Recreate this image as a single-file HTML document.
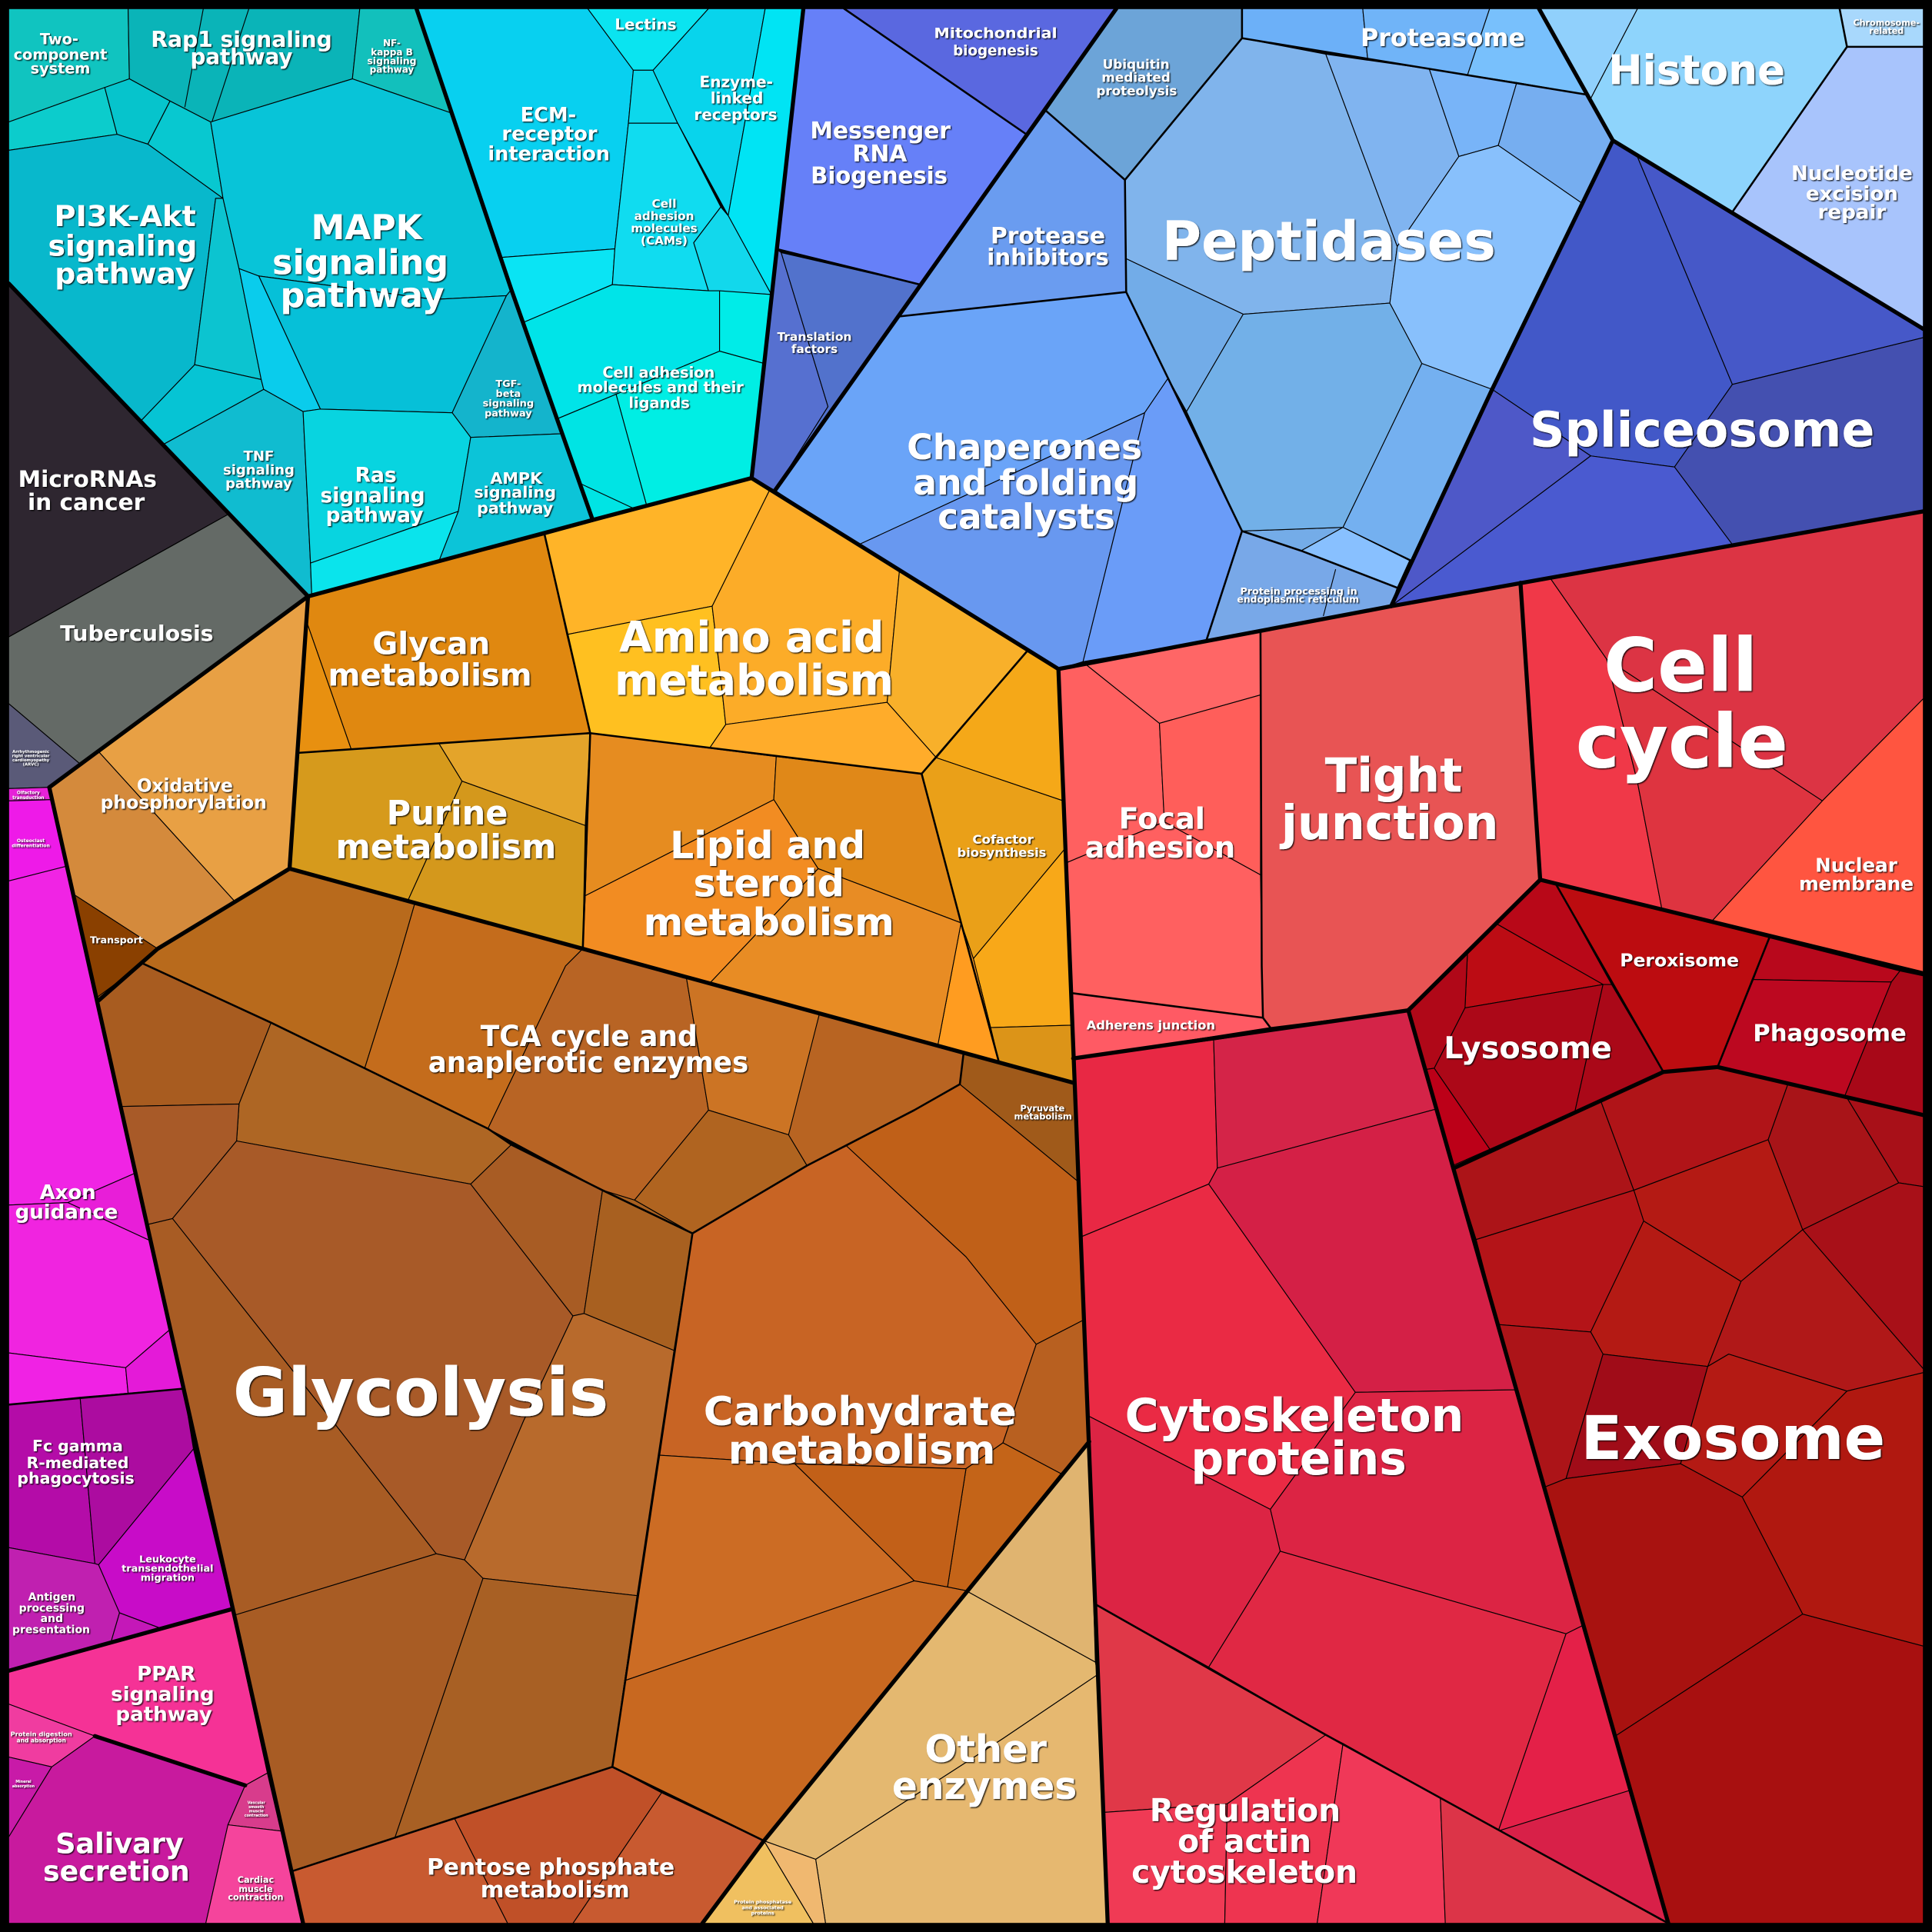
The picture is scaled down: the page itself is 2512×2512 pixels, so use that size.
<!DOCTYPE html>
<html><head><meta charset="utf-8"><style>
html,body{margin:0;padding:0;background:#000}
svg{display:block}
polygon{stroke:#000;stroke-width:.7;stroke-linejoin:round}
.t1{fill:none;stroke:#000;stroke-width:3.3;stroke-linejoin:round;stroke-linecap:round}
.t2{fill:none;stroke:#000;stroke-width:1.6;stroke-linejoin:round;stroke-linecap:round}
.t3{fill:none;stroke:#000;stroke-width:.7}
text{font-family:"DejaVu Sans","Liberation Sans",sans-serif;font-weight:bold;fill:#fff;text-anchor:middle}
</style></head><body>
<svg xmlns="http://www.w3.org/2000/svg" width="2512" height="2512" viewBox="0 0 1568 1568">
<defs><filter id="sh" x="-5%" y="-5%" width="110%" height="110%"><feDropShadow dx="0.8" dy="0.8" stdDeviation="0.5" flood-color="#000" flood-opacity="0.85"/></filter></defs>
<rect width="1568" height="1568" fill="#000"/>
<!-- CYAN -->
<polygon points="7,7 104,7 105,64 7,99" fill="#10c4c0"/>
<polygon points="104,7 292,7 286,64 171,99 138,82 105,64" fill="#0ab4b8"/>
<polygon points="292,7 338,7 367,92 286,64" fill="#12c0bc"/>
<polygon points="7,99 85,71 95,109 7,122" fill="#0ccccc"/>
<polygon points="85,71 105,64 138,82 120,117 95,109" fill="#06c4cc"/>
<polygon points="138,82 171,99 181,161 120,117" fill="#08c8d0"/>
<polygon points="7,122 95,109 120,117 181,161 175,161 158,296 114,342 7,230" fill="#08b8cc"/>
<polygon points="175,161 181,161 194,218 212,308 158,296" fill="#0cc4d0"/>
<polygon points="158,296 212,308 214,316 132,361 114,342" fill="#06c4d4"/>
<polygon points="171,99 286,64 367,92 415,235 411,240 352,243 210,224 194,218 181,161" fill="#08c4d8"/>
<polygon points="210,224 352,243 411,240 367,335 260,332" fill="#06c0d8"/>
<polygon points="194,218 210,224 260,332 246,334 214,316 212,308" fill="#0accec"/>
<polygon points="411,240 415,235 456,352 382,355 367,335" fill="#14b4cc"/>
<polygon points="132,361 214,316 246,334 252,457 253,483 250,484" fill="#10bcd0"/>
<polygon points="246,334 260,332 367,335 382,355 372,415 252,457" fill="#08d4e0"/>
<polygon points="252,457 372,415 356,456 253,483" fill="#0ae4ec"/>
<polygon points="382,355 456,352 481,422 356,456 372,415" fill="#0cc4d8"/>
<polygon points="338,7 477,7 514,57 510,100 499,202 406,209" fill="#08d0f0"/>
<polygon points="406,209 499,202 497,231 424,262 415,235" fill="#0ae4f4"/>
<polygon points="477,7 575,7 530,57 514,57" fill="#0ae4f0"/>
<polygon points="514,57 530,57 550,100 510,100" fill="#0cd8ec"/>
<polygon points="575,7 621,7 591,175 550,100 530,57" fill="#08d4ec"/>
<polygon points="621,7 652,7 626,239 591,175" fill="#00e4f4"/>
<polygon points="510,100 550,100 585,168 563,197 575,236 497,231 499,202" fill="#10dcf0"/>
<polygon points="585,168 591,175 626,239 575,236 563,197" fill="#12d8ec"/>
<polygon points="424,262 497,231 575,236 584,236 584,285 500,320 452,340" fill="#00e4e8"/>
<polygon points="584,236 626,239 620,295 584,285" fill="#00ece8"/>
<polygon points="500,320 584,285 620,295 610,388 525,411" fill="#00eee4"/>
<polygon points="452,340 500,320 525,411 481,422" fill="#00e4e4"/>
<!-- DARK -->
<polygon points="7,230 186,417 7,517" fill="#2e2630"/>
<polygon points="7,517 186,417 250,484 65,620 7,571" fill="#646a66"/>
<polygon points="7,571 65,620 40,639 7,640" fill="#5a5a78"/>
<!-- MAGENTA -->
<polygon points="7,640 40,639 42,649 7,650" fill="#e622d8"/>
<polygon points="7,650 42,649 54,703 7,715" fill="#ee1ae8"/>
<polygon points="7,715 54,703 110,952 55,976 7,978" fill="#f024e4"/>
<polygon points="55,976 110,952 122,1007" fill="#e81ed8"/>
<polygon points="7,978 55,976 122,1007 138,1079 102,1110 7,1098" fill="#f024e0"/>
<polygon points="7,1098 102,1110 104,1131 7,1140" fill="#f022e4"/>
<polygon points="102,1110 138,1079 149,1127 104,1131" fill="#e41ad8"/>
<polygon points="7,1140 65,1134 77,1269 7,1256" fill="#b40ca8"/>
<polygon points="65,1134 149,1127 157,1176 80,1270 77,1269" fill="#ac0ca0"/>
<polygon points="157,1176 188,1306 129,1321 97,1309 80,1270" fill="#c80cc8"/>
<polygon points="7,1256 77,1269 80,1270 97,1309 90,1333 7,1356" fill="#c020b0"/>
<polygon points="97,1309 129,1321 90,1333" fill="#c418b8"/>
<polygon points="7,1356 188,1306 217,1439 199,1449 77,1409 7,1383" fill="#f53296"/>
<polygon points="7,1383 77,1409 42,1434 7,1426" fill="#f03ca0"/>
<polygon points="7,1426 42,1434 7,1491" fill="#c81aa8"/>
<polygon points="42,1434 77,1409 199,1449 185,1481 167,1561 7,1561 7,1491" fill="#c81a9e"/>
<polygon points="199,1449 217,1439 228,1486 185,1481" fill="#d83c8c"/>
<polygon points="185,1481 228,1486 246,1561 167,1561" fill="#f5449c"/>
<!-- ORANGE UPPER -->
<polygon points="80,610 250,484 235,705 190,731" fill="#e8a044"/>
<polygon points="40,639 80,610 190,731 128,770 60,726" fill="#d48a3c"/>
<polygon points="60,726 128,770 80,812" fill="#8a4000"/>
<polygon points="250,484 442,434 479,595 285,608 249,505" fill="#e08810"/>
<polygon points="249,505 285,608 242,611" fill="#e89010"/>
<polygon points="242,611 356,603 375,634 331,731 235,705" fill="#d69a1c"/>
<polygon points="356,603 479,595 475,670 375,634" fill="#e4a42a"/>
<polygon points="375,634 475,670 473,770 331,731" fill="#d4981c"/>
<polygon points="442,434 610,388 625,397 578,492 460,515" fill="#ffb428"/>
<polygon points="460,515 578,492 586,560 589,588 576,607 479,595" fill="#ffc020"/>
<polygon points="625,397 730,463 720,570 589,588 586,560 578,492" fill="#fcac28"/>
<polygon points="589,588 720,570 760,615 748,628 576,607" fill="#ffac2a"/>
<polygon points="730,463 834,528 760,615 720,570" fill="#f8b02a"/>
<polygon points="834,528 859,543 863,650 760,615" fill="#f5a818"/>
<polygon points="760,615 863,650 865,688 790,778 780,749 748,628" fill="#eaa018"/>
<polygon points="865,688 870,832 804,834 790,778" fill="#f8a818"/>
<polygon points="804,834 870,832 872,879 811,863" fill="#dc9418"/>
<polygon points="780,749 790,778 804,834 811,863 761,849" fill="#ff9c20"/>
<polygon points="479,595 630,614 628,649 475,727" fill="#e68c20"/>
<polygon points="630,614 748,628 780,749 664,705 628,649" fill="#e08818"/>
<polygon points="475,727 628,649 664,705 576,798 473,770" fill="#f28c22"/>
<polygon points="664,705 780,749 761,849 576,798" fill="#e88c24"/>
<!-- BROWN -->
<polygon points="128,770 235,705 337,732 322,784 296,867 220,830 116,782" fill="#b86a1c"/>
<polygon points="337,732 473,770 459,784 396,916 296,867 322,784" fill="#c46c1c"/>
<polygon points="473,770 557,793 575,901 515,974 489,966 396,916 459,784" fill="#b86424"/>
<polygon points="557,793 665,823 646,901 640,921 575,901" fill="#cc7424"/>
<polygon points="575,901 640,921 655,946 562,1001 515,974" fill="#b06420"/>
<polygon points="665,823 782,855 779,880 742,901 655,946 640,921" fill="#b86422"/>
<polygon points="782,855 872,879 875,959 779,880" fill="#a05a1a"/>
<polygon points="78,810 116,782 220,830 194,896 98,898" fill="#a85c20"/>
<polygon points="220,830 296,867 396,916 415,929 382,961 192,926 194,896" fill="#ae6624"/>
<polygon points="98,898 194,896 192,926 140,989 119,994" fill="#a85a28"/>
<polygon points="192,926 382,961 465,1068 425,1153 377,1266 354,1261 272,1156 140,989" fill="#a85a28"/>
<polygon points="382,961 415,929 489,966 474,1066 465,1068" fill="#a85c24"/>
<polygon points="489,966 515,974 562,1001 547,1096 474,1066" fill="#a86020"/>
<polygon points="474,1066 547,1096 517,1295 392,1281 377,1266 425,1153 465,1068" fill="#b86a2c"/>
<polygon points="119,994 140,989 272,1156 354,1261 190,1311" fill="#a85c24"/>
<polygon points="190,1311 354,1261 377,1266 392,1281 320,1493 236,1519" fill="#a85c24"/>
<polygon points="392,1281 517,1295 497,1434 320,1493" fill="#a86024"/>
<polygon points="236,1519 369,1476 412,1561 246,1561" fill="#c85a30"/>
<polygon points="369,1476 497,1434 537,1455 465,1561 412,1561" fill="#c05028"/>
<polygon points="537,1455 620,1494 570,1561 465,1561" fill="#c85a30"/>
<polygon points="562,1001 655,946 687,930 784,1020 841,1091 814,1171 784,1192 645,1188 535,1181" fill="#c86424"/>
<polygon points="687,930 742,901 779,880 875,959 880,1071 841,1091 784,1020" fill="#c06018"/>
<polygon points="841,1091 880,1071 884,1170 861,1196 814,1171" fill="#b86020"/>
<polygon points="784,1192 814,1171 861,1196 784,1291 769,1288" fill="#c46418"/>
<polygon points="645,1188 784,1192 769,1288 742,1283" fill="#c26018"/>
<polygon points="535,1181 645,1188 742,1283 507,1364" fill="#cc6c24"/>
<polygon points="742,1283 769,1288 784,1291 620,1494 497,1434 507,1364" fill="#c86820"/>
<polygon points="884,1170 889,1349 784,1291" fill="#e0b470"/>
<polygon points="620,1494 784,1291 889,1349 891,1359 814,1411 662,1509" fill="#e4b870"/>
<polygon points="662,1509 814,1411 891,1359 899,1561 670,1561" fill="#e6b870"/>
<polygon points="620,1494 662,1509 670,1561 660,1561" fill="#f0b870"/>
<polygon points="620,1494 660,1561 570,1561" fill="#f0c060"/>
<!-- BLUE -->
<polygon points="652,7 685,7 833,109 747,231 630,202" fill="#6680f8"/>
<polygon points="685,7 906,7 833,109" fill="#5a68e0"/>
<polygon points="630,202 634,205 672,330 629,398 610,388" fill="#5670d0"/>
<polygon points="634,205 747,231 629,398 672,330" fill="#5272cc"/>
<polygon points="906,7 1008,7 1008,31 913,146 849,90" fill="#6ca4d8"/>
<polygon points="1008,7 1106,7 1110,48 1008,31" fill="#6cb0f8"/>
<polygon points="1106,7 1209,7 1191,61 1110,48" fill="#70b4f8"/>
<polygon points="1209,7 1249,7 1289,77 1191,61" fill="#78c0fc"/>
<polygon points="849,90 913,146 914,237 728,257" fill="#6a9cf0"/>
<polygon points="629,398 728,257 914,237 948,307 929,335 697,442" fill="#6aa4f8"/>
<polygon points="697,442 929,335 879,537 859,543" fill="#6898f0"/>
<polygon points="929,335 948,307 1008,431 979,520 879,537" fill="#6a9cf8"/>
<polygon points="1008,431 1090,428 1056,447" fill="#74ace8"/>
<polygon points="1008,431 1056,447 1134,477 1129,492 979,520" fill="#78a8e8"/>
<polygon points="1056,447 1090,428 1144,455 1134,477" fill="#88c0ff"/>
<polygon points="913,146 1008,31 1076,44 1134,200 1128,246 1009,255 914,210" fill="#80b4ec"/>
<polygon points="914,210 1009,255 963,334 948,307 914,237" fill="#72ace8"/>
<polygon points="1009,255 1128,246 1154,295 1090,428 1008,431 963,334" fill="#72b0e8"/>
<polygon points="1076,44 1160,56 1184,127 1134,200" fill="#80b4f0"/>
<polygon points="1160,56 1231,67 1216,118 1184,127" fill="#78b4f8"/>
<polygon points="1231,67 1289,77 1309,114 1284,165 1216,118" fill="#76aef0"/>
<polygon points="1184,127 1216,118 1284,165 1211,316 1154,295 1128,246 1134,200" fill="#88c0fc"/>
<polygon points="1154,295 1211,316 1146,455 1090,428" fill="#74b0f0"/>
<polygon points="1249,7 1329,7 1291,80" fill="#90d0fc"/>
<polygon points="1329,7 1493,7 1499,38 1406,172 1309,114 1291,80" fill="#8ed4fc"/>
<polygon points="1493,7 1561,7 1561,38 1499,38" fill="#a8d8fc"/>
<polygon points="1499,38 1561,38 1561,267 1406,172" fill="#a8c4fc"/>
<polygon points="1309,114 1328,125 1406,312 1359,379 1291,370 1211,316" fill="#4258c8"/>
<polygon points="1328,125 1561,267 1561,274 1406,312" fill="#4658c8"/>
<polygon points="1406,312 1561,274 1561,415 1406,442 1359,379" fill="#4450b0"/>
<polygon points="1211,316 1291,370 1129,492" fill="#4e58c8"/>
<polygon points="1291,370 1359,379 1406,442 1129,492" fill="#4a5ad0"/>
<!-- RED -->
<polygon points="859,543 881,539 941,587 945,667 866,700" fill="#ff6060"/>
<polygon points="881,539 1023,512 1023,564 941,587" fill="#ff6666"/>
<polygon points="941,587 1023,564 1023,710 945,667" fill="#ff5e5a"/>
<polygon points="866,700 945,667 1023,710 1025,826 870,806" fill="#ff6060"/>
<polygon points="870,806 1025,826 1031,834 871,859" fill="#ff5a64"/>
<polygon points="1023,512 1234,473 1250,714 1143,820 1031,834 1025,826 1024,784" fill="#e85454"/>
<polygon points="1234,473 1258,469 1304,535 1329,635 1349,739 1250,714" fill="#f03848"/>
<polygon points="1258,469 1561,415 1561,567 1479,650 1304,535" fill="#dc3444"/>
<polygon points="1304,535 1479,650 1389,748 1349,739 1329,635" fill="#de3440"/>
<polygon points="1561,567 1561,790 1389,748 1479,650" fill="#ff5540"/>
<polygon points="1250,714 1263,718 1308,799 1301,799 1215,750" fill="#b80818"/>
<polygon points="1191,773 1215,750 1301,799 1189,818" fill="#bc0c14"/>
<polygon points="1142,819 1191,773 1189,818 1164,867 1157,868" fill="#b00818"/>
<polygon points="1189,818 1301,799 1278,903 1210,934 1164,867" fill="#ac0818"/>
<polygon points="1301,799 1308,799 1350,870 1278,903" fill="#aa0818"/>
<polygon points="1157,868 1164,867 1210,934 1180,948" fill="#bc0018"/>
<polygon points="1263,718 1436,761 1394,866 1350,870" fill="#bc0c10"/>
<polygon points="1436,761 1542,788 1535,797 1423,795" fill="#b8081c"/>
<polygon points="1423,795 1535,797 1497,890 1394,866" fill="#bc0820"/>
<polygon points="1542,788 1561,792 1561,905 1497,890 1535,797" fill="#a80818"/>
<polygon points="1179,946 1299,893 1326,966 1198,1006" fill="#ac1418"/>
<polygon points="1299,893 1350,870 1394,866 1451,880 1435,925 1326,966" fill="#b01418"/>
<polygon points="1451,880 1499,891 1541,960 1463,998 1435,925" fill="#a81418"/>
<polygon points="1499,891 1561,905 1561,963 1541,960" fill="#a81018"/>
<polygon points="1326,966 1435,925 1463,998 1413,1040 1334,991" fill="#b41a14"/>
<polygon points="1198,1006 1326,966 1334,991 1291,1081 1216,1075" fill="#b41418"/>
<polygon points="1334,991 1413,1040 1386,1109 1301,1099 1291,1081" fill="#b41a14"/>
<polygon points="1463,998 1541,960 1561,963 1561,1111" fill="#a81018"/>
<polygon points="1413,1040 1463,998 1561,1111 1561,1114 1499,1129 1403,1099 1386,1109" fill="#b01818"/>
<polygon points="1216,1075 1291,1081 1301,1099 1271,1200 1251,1208" fill="#ac1418"/>
<polygon points="1301,1099 1386,1109 1364,1188 1271,1200" fill="#a00c18"/>
<polygon points="1386,1109 1403,1099 1499,1129 1414,1215 1364,1188" fill="#b41a14"/>
<polygon points="1499,1129 1561,1114 1561,1336 1463,1310 1414,1215" fill="#b01810"/>
<polygon points="1251,1208 1271,1200 1364,1188 1414,1215 1463,1310 1311,1409" fill="#a81210"/>
<polygon points="1311,1409 1463,1310 1561,1336 1561,1561 1354,1561" fill="#a81010"/>
<polygon points="871,859 985,844 988,948 981,961 877,1004" fill="#e82844"/>
<polygon points="985,844 1143,820 1166,900 988,948" fill="#d42448"/>
<polygon points="877,1004 981,961 1100,1130 1031,1225 883,1149" fill="#ea2a44"/>
<polygon points="988,948 1166,900 1230,1128 1100,1130 981,961" fill="#d42046"/>
<polygon points="1100,1130 1230,1128 1285,1319 1271,1326 1039,1259 1031,1225" fill="#dc2444"/>
<polygon points="883,1149 1031,1225 1039,1259 981,1353 889,1302" fill="#dc2444"/>
<polygon points="981,1353 1039,1259 1271,1326 1216,1486 1076,1408" fill="#e02844"/>
<polygon points="1271,1326 1285,1319 1323,1453 1216,1486" fill="#e42048"/>
<polygon points="1216,1486 1323,1453 1354,1561" fill="#d82048"/>
<polygon points="889,1302 1076,1408 996,1464 895,1471" fill="#e03848"/>
<polygon points="895,1471 996,1464 994,1561 899,1561" fill="#f03a55"/>
<polygon points="996,1464 1076,1408 1090,1415 1069,1561 994,1561" fill="#ee3450"/>
<polygon points="1090,1415 1169,1459 1173,1561 1069,1561" fill="#f03858"/>
<polygon points="1169,1459 1354,1561 1173,1561" fill="#dc3448"/>
<!-- thin extra lines -->
<polyline class="t3" points="150,87 165,7"/>
<polyline class="t3" points="172,99 202,7"/>
<polyline class="t3" points="470,392 515,413"/>
<polyline class="t3" points="1084,462 1074,500"/>
<!-- medium lines -->
<polyline class="t2" points="7,1140 149,1127"/>
<polyline class="t2" points="242,611 479,595 748,628"/>
<polyline class="t2" points="442,434 479,595 473,770"/>
<polyline class="t2" points="834,528 748,628 780,749 811,863"/>
<polyline class="t2" points="116,782 220,830 296,867 396,916 415,929 489,966 562,1001 497,1434 236,1519"/>
<polyline class="t2" points="497,1434 620,1494"/>
<polyline class="t2" points="562,1001 655,946 742,901 779,880 782,855"/>
<polyline class="t2" points="1008,7 1008,31 1289,77"/>
<polyline class="t2" points="1008,31 913,146 849,90"/>
<polyline class="t2" points="913,146 914,237 728,257"/>
<polyline class="t2" points="914,237 948,307 1008,431 979,520"/>
<polyline class="t2" points="1008,431 1056,447 1134,477"/>
<polyline class="t2" points="1406,172 1499,38 1561,38"/>
<polyline class="t2" points="1493,7 1499,38"/>
<polyline class="t2" points="685,7 833,109"/>
<polyline class="t2" points="630,202 747,231"/>
<polyline class="t2" points="1023,512 1024,784 1025,826 1031,834"/>
<polyline class="t2" points="870,806 1025,826"/>
<polyline class="t2" points="1263,718 1350,870"/>
<polyline class="t2" points="1436,761 1394,866"/>
<polyline class="t2" points="889,1302 1076,1408 1354,1561"/>
<!-- thick lines -->
<polyline class="t1" points="7,230 250,484 481,422 610,388 652,7"/>
<polyline class="t1" points="338,7 415,235 481,422"/>
<polyline class="t1" points="250,484 40,639"/>
<polyline class="t1" points="40,639 246,1561"/>
<polyline class="t1" points="250,484 235,705 128,770 80,812"/>
<polyline class="t1" points="235,705 872,879"/>
<polyline class="t1" points="610,388 859,543 899,1561"/>
<polyline class="t1" points="859,543 1129,492 1561,415"/>
<polyline class="t1" points="906,7 629,398"/>
<polyline class="t1" points="1249,7 1309,114 1211,316 1129,492"/>
<polyline class="t1" points="1309,114 1561,267"/>
<polyline class="t1" points="1234,473 1250,714 1561,790"/>
<polyline class="t1" points="1250,714 1143,820 871,859"/>
<polyline class="t1" points="1143,820 1354,1561"/>
<polyline class="t1" points="1180,948 1350,870 1394,866 1561,905"/>
<polyline class="t1" points="884,1170 620,1494 570,1561"/>
<polyline class="t1" points="7,1356 188,1306"/>
<polyline class="t1" points="77,1409 199,1449"/>
<rect x="3.5" y="3.5" width="1561" height="1561" fill="none" stroke="#000" stroke-width="7.5"/>
<!-- LABELS -->
<g filter="url(#sh)">
<text x="48" y="36" font-size="12">Two-</text>
<text x="49" y="48.5" font-size="12" textLength="76" lengthAdjust="spacingAndGlyphs">component</text>
<text x="49" y="59.5" font-size="12">system</text>
<text x="196" y="38" font-size="17.5" textLength="147" lengthAdjust="spacingAndGlyphs">Rap1 signaling</text>
<text x="196" y="52" font-size="17.5" textLength="83" lengthAdjust="spacingAndGlyphs">pathway</text>
<text x="318" y="37.5" font-size="7.5">NF-</text>
<text x="318" y="45" font-size="7.5">kappa B</text>
<text x="318" y="52" font-size="7.5" textLength="40" lengthAdjust="spacingAndGlyphs">signaling</text>
<text x="318" y="59" font-size="7.5">pathway</text>
<text x="101.5" y="183.5" font-size="23.5" textLength="115" lengthAdjust="spacingAndGlyphs">PI3K-Akt</text>
<text x="99.5" y="207.5" font-size="23.5" textLength="121" lengthAdjust="spacingAndGlyphs">signaling</text>
<text x="101" y="230" font-size="23.5" textLength="113" lengthAdjust="spacingAndGlyphs">pathway</text>
<text x="297.5" y="194" font-size="27.7" textLength="90" lengthAdjust="spacingAndGlyphs">MAPK</text>
<text x="292.5" y="222.5" font-size="27.7" textLength="143" lengthAdjust="spacingAndGlyphs">signaling</text>
<text x="294" y="249" font-size="27.7" textLength="133" lengthAdjust="spacingAndGlyphs">pathway</text>
<text x="445" y="98.5" font-size="16">ECM-</text>
<text x="446" y="114" font-size="16" textLength="77.5" lengthAdjust="spacingAndGlyphs">receptor</text>
<text x="445.5" y="130" font-size="16" textLength="99" lengthAdjust="spacingAndGlyphs">interaction</text>
<text x="524" y="24" font-size="12.4" textLength="50" lengthAdjust="spacingAndGlyphs">Lectins</text>
<text x="597.5" y="71" font-size="12.5">Enzyme-</text>
<text x="598" y="84" font-size="12.5">linked</text>
<text x="597" y="97.5" font-size="12.5" textLength="67.5" lengthAdjust="spacingAndGlyphs">receptors</text>
<text x="539" y="168.5" font-size="9.5">Cell</text>
<text x="539" y="178.5" font-size="9.5">adhesion</text>
<text x="539" y="188.5" font-size="9.5" textLength="54" lengthAdjust="spacingAndGlyphs">molecules</text>
<text x="539" y="198.5" font-size="9.5">(CAMs)</text>
<text x="534.5" y="306.5" font-size="12.1" textLength="91" lengthAdjust="spacingAndGlyphs">Cell adhesion</text>
<text x="536" y="318.5" font-size="12.1" textLength="135" lengthAdjust="spacingAndGlyphs">molecules and their</text>
<text x="535" y="331" font-size="12.1">ligands</text>
<text x="412.5" y="314" font-size="8">TGF-</text>
<text x="412.5" y="322" font-size="8">beta</text>
<text x="412.5" y="330" font-size="8" textLength="41.5" lengthAdjust="spacingAndGlyphs">signaling</text>
<text x="412.5" y="338" font-size="8">pathway</text>
<text x="210" y="374" font-size="11.3">TNF</text>
<text x="210" y="385" font-size="11.3" textLength="58" lengthAdjust="spacingAndGlyphs">signaling</text>
<text x="210" y="396" font-size="11.3">pathway</text>
<text x="305" y="391" font-size="16.5">Ras</text>
<text x="302.5" y="407.5" font-size="16.5" textLength="85" lengthAdjust="spacingAndGlyphs">signaling</text>
<text x="304" y="423.5" font-size="16.5">pathway</text>
<text x="419" y="392.5" font-size="12.9">AMPK</text>
<text x="418" y="404" font-size="12.9" textLength="66.5" lengthAdjust="spacingAndGlyphs">signaling</text>
<text x="418" y="416.5" font-size="12.9">pathway</text>
<text x="71" y="395" font-size="18.5" textLength="112.5" lengthAdjust="spacingAndGlyphs">MicroRNAs</text>
<text x="70" y="414" font-size="18.5" textLength="95" lengthAdjust="spacingAndGlyphs">in cancer</text>
<text x="111" y="520" font-size="17.4" textLength="124.5" lengthAdjust="spacingAndGlyphs">Tuberculosis</text>
<text x="25" y="611" font-size="3.3">Arrhythmogenic</text>
<text x="25" y="614.5" font-size="3.3">right ventricular</text>
<text x="25" y="618" font-size="3.3">cardiomyopathy</text>
<text x="25" y="621.5" font-size="3.3">(ARVC)</text>
<text x="23" y="644.5" font-size="3.6">Olfactory</text>
<text x="23" y="648.5" font-size="3.6">transduction</text>
<text x="25" y="683.5" font-size="3.8">Osteoclast</text>
<text x="25" y="687.5" font-size="3.8">differentiation</text>
<text x="150" y="642.5" font-size="14.7" textLength="78" lengthAdjust="spacingAndGlyphs">Oxidative</text>
<text x="149" y="656.5" font-size="14.7" textLength="135" lengthAdjust="spacingAndGlyphs">phosphorylation</text>
<text x="94.5" y="765.5" font-size="8" textLength="43" lengthAdjust="spacingAndGlyphs">Transport</text>
<text x="350" y="531" font-size="25" textLength="95.5" lengthAdjust="spacingAndGlyphs">Glycan</text>
<text x="349" y="556.5" font-size="25" textLength="165.5" lengthAdjust="spacingAndGlyphs">metabolism</text>
<text x="610" y="529" font-size="34.3" textLength="215" lengthAdjust="spacingAndGlyphs">Amino acid</text>
<text x="612" y="564" font-size="34.3" textLength="226.5" lengthAdjust="spacingAndGlyphs">metabolism</text>
<text x="363" y="669" font-size="27.1" textLength="98.5" lengthAdjust="spacingAndGlyphs">Purine</text>
<text x="362" y="696.5" font-size="27.1" textLength="179" lengthAdjust="spacingAndGlyphs">metabolism</text>
<text x="623" y="696.5" font-size="30.8" textLength="158.5" lengthAdjust="spacingAndGlyphs">Lipid and</text>
<text x="624" y="727.5" font-size="30.8" textLength="122.5" lengthAdjust="spacingAndGlyphs">steroid</text>
<text x="624" y="759" font-size="30.8" textLength="203.5" lengthAdjust="spacingAndGlyphs">metabolism</text>
<text x="814" y="684.6" font-size="10.2" textLength="49.6" lengthAdjust="spacingAndGlyphs">Cofactor</text>
<text x="813" y="695.3" font-size="10.2" textLength="72.3" lengthAdjust="spacingAndGlyphs">biosynthesis</text>
<text x="478" y="849" font-size="23.3" textLength="176" lengthAdjust="spacingAndGlyphs">TCA cycle and</text>
<text x="477.5" y="870" font-size="23.3" textLength="260" lengthAdjust="spacingAndGlyphs">anaplerotic enzymes</text>
<text x="846" y="902" font-size="7.1">Pyruvate</text>
<text x="846.5" y="908.5" font-size="7.1" textLength="47" lengthAdjust="spacingAndGlyphs">metabolism</text>
<text x="341.5" y="1149" font-size="54.2" textLength="305" lengthAdjust="spacingAndGlyphs">Glycolysis</text>
<text x="698" y="1156.5" font-size="32.5" textLength="254" lengthAdjust="spacingAndGlyphs">Carbohydrate</text>
<text x="699.5" y="1188" font-size="32.5" textLength="217" lengthAdjust="spacingAndGlyphs">metabolism</text>
<text x="447" y="1521.5" font-size="18.3" textLength="201" lengthAdjust="spacingAndGlyphs">Pentose phosphate</text>
<text x="450.5" y="1540" font-size="18.3" textLength="121" lengthAdjust="spacingAndGlyphs">metabolism</text>
<text x="800" y="1430" font-size="30.4" textLength="99" lengthAdjust="spacingAndGlyphs">Other</text>
<text x="799" y="1460" font-size="30.4" textLength="150" lengthAdjust="spacingAndGlyphs">enzymes</text>
<text x="619" y="1545" font-size="4">Protein phosphatase</text>
<text x="619" y="1549.5" font-size="4">and associated</text>
<text x="619" y="1554" font-size="4">proteins</text>
<text x="714.5" y="112.5" font-size="18.6" textLength="114" lengthAdjust="spacingAndGlyphs">Messenger</text>
<text x="714" y="131" font-size="18.6">RNA</text>
<text x="713.5" y="149" font-size="18.6" textLength="111" lengthAdjust="spacingAndGlyphs">Biogenesis</text>
<text x="808" y="31" font-size="11.4" textLength="100" lengthAdjust="spacingAndGlyphs">Mitochondrial</text>
<text x="808" y="45" font-size="11.4">biogenesis</text>
<text x="661" y="276.5" font-size="9.5" textLength="60.5" lengthAdjust="spacingAndGlyphs">Translation</text>
<text x="661" y="286.5" font-size="9.5">factors</text>
<text x="922" y="56" font-size="10.5">Ubiquitin</text>
<text x="922" y="66.5" font-size="10.5">mediated</text>
<text x="922.5" y="77.5" font-size="10.5" textLength="65.5" lengthAdjust="spacingAndGlyphs">proteolysis</text>
<text x="1171" y="37.5" font-size="19.8" textLength="133.5" lengthAdjust="spacingAndGlyphs">Proteasome</text>
<text x="850.5" y="197.5" font-size="18.3" textLength="93" lengthAdjust="spacingAndGlyphs">Protease</text>
<text x="850.5" y="215" font-size="18.3" textLength="99" lengthAdjust="spacingAndGlyphs">inhibitors</text>
<text x="1078.5" y="211" font-size="43.7" textLength="271" lengthAdjust="spacingAndGlyphs">Peptidases</text>
<text x="831.5" y="372.5" font-size="28.6" textLength="191" lengthAdjust="spacingAndGlyphs">Chaperones</text>
<text x="832.5" y="401.5" font-size="28.6" textLength="183" lengthAdjust="spacingAndGlyphs">and folding</text>
<text x="833" y="429" font-size="28.6" textLength="144" lengthAdjust="spacingAndGlyphs">catalysts</text>
<text x="1054" y="482.5" font-size="7.5" textLength="95" lengthAdjust="spacingAndGlyphs">Protein processing in</text>
<text x="1053.5" y="489" font-size="7.5" textLength="99" lengthAdjust="spacingAndGlyphs">endoplasmic reticulum</text>
<text x="1377" y="68.5" font-size="33.1" textLength="143.5" lengthAdjust="spacingAndGlyphs">Histone</text>
<text x="1531" y="21" font-size="6.9" textLength="54" lengthAdjust="spacingAndGlyphs">Chromosome-</text>
<text x="1531" y="27.5" font-size="6.9">related</text>
<text x="1503" y="146" font-size="16.3" textLength="98.5" lengthAdjust="spacingAndGlyphs">Nucleotide</text>
<text x="1503" y="162.5" font-size="16.3">excision</text>
<text x="1503" y="177.5" font-size="16.3">repair</text>
<text x="1381.5" y="362.5" font-size="39.5" textLength="280" lengthAdjust="spacingAndGlyphs">Spliceosome</text>
<text x="1364" y="561" font-size="60" textLength="125" lengthAdjust="spacingAndGlyphs">Cell</text>
<text x="1365" y="622.5" font-size="60" textLength="172.5" lengthAdjust="spacingAndGlyphs">cycle</text>
<text x="1131" y="642.5" font-size="38.5" textLength="111.5" lengthAdjust="spacingAndGlyphs">Tight</text>
<text x="1128" y="681" font-size="38.5" textLength="176.5" lengthAdjust="spacingAndGlyphs">junction</text>
<text x="943" y="672.5" font-size="23.8" textLength="70" lengthAdjust="spacingAndGlyphs">Focal</text>
<text x="941.5" y="696" font-size="23.8" textLength="122" lengthAdjust="spacingAndGlyphs">adhesion</text>
<text x="1506.5" y="707.5" font-size="15.4">Nuclear</text>
<text x="1506.5" y="722.5" font-size="15.4" textLength="93" lengthAdjust="spacingAndGlyphs">membrane</text>
<text x="934" y="835.5" font-size="10" textLength="104.5" lengthAdjust="spacingAndGlyphs">Adherens junction</text>
<text x="1363" y="784.4" font-size="14.6" textLength="96.5" lengthAdjust="spacingAndGlyphs">Peroxisome</text>
<text x="1240" y="859" font-size="24.5" textLength="136.5" lengthAdjust="spacingAndGlyphs">Lysosome</text>
<text x="1485" y="845" font-size="19.1" textLength="124.5" lengthAdjust="spacingAndGlyphs">Phagosome</text>
<text x="1406.5" y="1184" font-size="49" textLength="247" lengthAdjust="spacingAndGlyphs">Exosome</text>
<text x="1050.5" y="1161.5" font-size="37.2" textLength="275" lengthAdjust="spacingAndGlyphs">Cytoskeleton</text>
<text x="1054" y="1196.5" font-size="37.2" textLength="175" lengthAdjust="spacingAndGlyphs">proteins</text>
<text x="1010.5" y="1478" font-size="25.4" textLength="155" lengthAdjust="spacingAndGlyphs">Regulation</text>
<text x="1010" y="1503" font-size="25.4">of actin</text>
<text x="1010" y="1528" font-size="25.4" textLength="183.5" lengthAdjust="spacingAndGlyphs">cytoskeleton</text>
<text x="55" y="973" font-size="16.2">Axon</text>
<text x="54" y="989" font-size="16.2" textLength="83.5" lengthAdjust="spacingAndGlyphs">guidance</text>
<text x="63" y="1178" font-size="12.75">Fc gamma</text>
<text x="63" y="1191.5" font-size="12.75">R-mediated</text>
<text x="61.5" y="1204" font-size="12.75" textLength="95" lengthAdjust="spacingAndGlyphs">phagocytosis</text>
<text x="136" y="1268" font-size="8">Leukocyte</text>
<text x="136" y="1275.5" font-size="8" textLength="74.5" lengthAdjust="spacingAndGlyphs">transendothelial</text>
<text x="136" y="1283" font-size="8">migration</text>
<text x="42" y="1299" font-size="8.7">Antigen</text>
<text x="42" y="1308" font-size="8.7">processing</text>
<text x="42" y="1316.5" font-size="8.7">and</text>
<text x="41.5" y="1325.5" font-size="8.7" textLength="63" lengthAdjust="spacingAndGlyphs">presentation</text>
<text x="135" y="1364" font-size="16.3">PPAR</text>
<text x="132" y="1380.5" font-size="16.3" textLength="84" lengthAdjust="spacingAndGlyphs">signaling</text>
<text x="133" y="1396.5" font-size="16.3">pathway</text>
<text x="33.5" y="1409" font-size="4.7" textLength="50" lengthAdjust="spacingAndGlyphs">Protein digestion</text>
<text x="33.5" y="1414" font-size="4.7">and absorption</text>
<text x="19" y="1447" font-size="3">Mineral</text>
<text x="19" y="1450.5" font-size="3">absorption</text>
<text x="97" y="1504" font-size="22.6" textLength="104" lengthAdjust="spacingAndGlyphs">Salivary</text>
<text x="94.5" y="1526.5" font-size="22.6" textLength="119" lengthAdjust="spacingAndGlyphs">secretion</text>
<text x="208" y="1464" font-size="3">Vascular</text>
<text x="208" y="1467.5" font-size="3">smooth</text>
<text x="208" y="1471" font-size="3">muscle</text>
<text x="208" y="1474.5" font-size="3">contraction</text>
<text x="207.5" y="1528" font-size="7">Cardiac</text>
<text x="207.5" y="1535.5" font-size="7">muscle</text>
<text x="207.5" y="1542" font-size="7" textLength="45" lengthAdjust="spacingAndGlyphs">contraction</text>
</g>
</svg>
</body></html>
